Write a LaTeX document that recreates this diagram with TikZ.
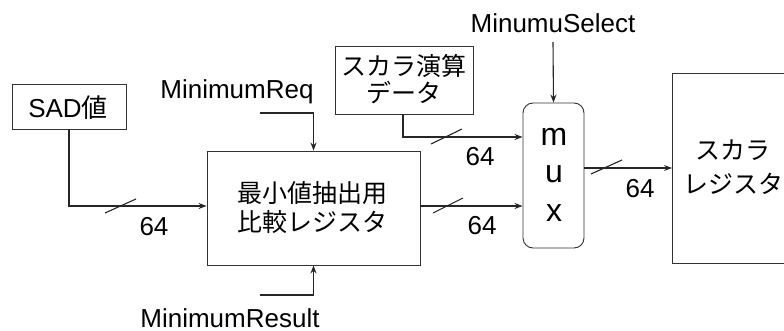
\documentclass[tikz,border=0pt]{standalone}
\usepackage{fontspec}
\setmainfont{Liberation Sans}
\newfontfamily\jp{Noto Sans CJK JP}
\usetikzlibrary{arrows.meta}
\tikzset{
  blk/.style={draw=black!80, line width=0.9pt, inner sep=0pt},
  wire/.style={draw=black!85, line width=1.1pt, -{Stealth[length=8pt,width=6pt]}},
  bus/.style={draw=black!85, line width=1.1pt},
  txt/.style={font=\fontsize{26}{28}\selectfont, inner sep=0pt, anchor=base},
  muxtxt/.style={font=\fontsize{32}{32}\selectfont, inner sep=0pt, anchor=base},
  jtxt/.style={font=\fontsize{25}{29}\selectfont\jp, inner sep=0pt, align=center},
}
\begin{document}
\begin{tikzpicture}[x=1pt,y=-1pt]
\useasboundingbox (0,0) rectangle (784,331);
\clip (0,0) rectangle (784,331);
% boxes
\node[blk, minimum width=114pt, minimum height=45pt] (sad) at (69,106.5) {};
\node[txt] (sadt) at (68,118) {SAD{\jp 値}};
\node[blk, minimum width=213pt, minimum height=114pt] (cmp) at (313.5,208) {};
\node[jtxt] (cmpt) at (312,208) {最小値抽出用\\比較レジスタ};
\node[blk, minimum width=138pt, minimum height=68pt] (sdat) at (404,80) {};
\node[jtxt, font=\fontsize{25}{27.5}\selectfont\jp] (sdatt) at (404,79) {スカラ演算\\データ};
\node[blk, rounded corners=10pt, minimum width=61pt, minimum height=145pt] (mux) at (553.5,175.5) {};
\node[muxtxt] (m) at (554,146) {m};
\node[muxtxt] (u) at (554,183) {u};
\node[muxtxt] (x) at (554,222) {x};
\node[blk, minimum width=150pt, minimum height=190pt, anchor=north west] (sreg) at (672,73) {};
\node[jtxt, font=\fontsize{25}{34}\selectfont\jp] (sregt) at (733,167) {スカラ\\レジスタ};
% labels
\node[txt] (mreq) at (237,99) {MinimumReq};
\node[txt] (mres) at (230,327) {MinimumResult};
\node[txt] (msel) at (553,33) {MinumuSelect};
% free ends
\coordinate (reqs) at (260,113);
\coordinate (ress) at (260,295);
\coordinate (sels) at (553,42);
% connectors
\draw[wire] (sad.south) |- (cmp.west |- 0,206);
\draw[wire] (reqs) -| (cmp.north);
\draw[wire] (ress) -| (cmp.south);
\draw[wire] (sdat.south -| 403,0) |- (mux.west |- 0,137);
\draw[wire] (cmp.east |- 0,206) -- (mux.west |- 0,206);
\draw[wire] (sels) -- (mux.north);
\draw[wire] (mux.east |- 0,168) -- (sreg.west |- 0,168);
% bus slashes
\draw[bus] (105,213) -- (136,199);
\draw[bus] (431,144) -- (462,129);
\draw[bus] (433,213) -- (463,198);
\draw[bus] (591,174) -- (622,160);
% bus widths
\node[txt] (w1) at (154,235) {64};
\node[txt] (w2) at (480,166) {64};
\node[txt] (w3) at (482,234) {64};
\node[txt] (w4) at (640,197) {64};
\end{tikzpicture}
\end{document}
